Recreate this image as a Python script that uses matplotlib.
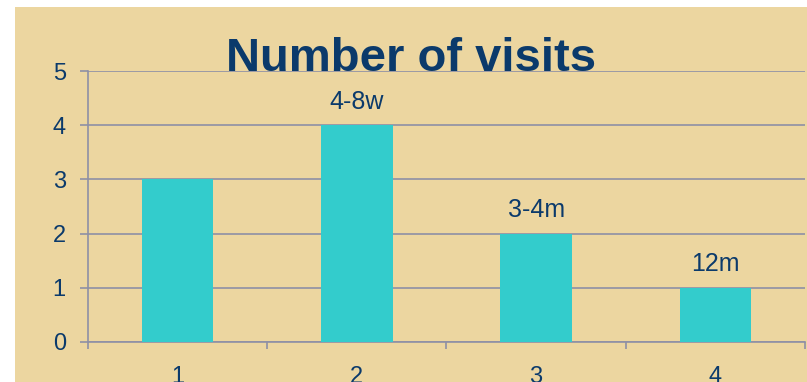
import matplotlib.pyplot as plt
from matplotlib.patches import Rectangle
from matplotlib.ticker import FixedLocator

# visit counts per group
groups = ["1", "2", "3", "4"]
visits = [3, 4, 2, 1]
intervals = ["", "4-8w", "3-4m", "12m"]

navy = "#0B3A6B"
grid_grey = "#8E90A6"
bar_cyan = "#33CCCC"
paper = "#ECD6A0"

plt.rcParams['font.family'] = ['Liberation Sans', 'DejaVu Sans']

fig = plt.figure(figsize=(8.07, 3.82), dpi=100)
fig.patch.set_facecolor("white")

# paper backdrop, leaving a thin white strip on the top and left
fig.patches.append(Rectangle((15 / 807, 0), 1 - 15 / 807, 375 / 382,
                             transform=fig.transFigure, facecolor=paper,
                             edgecolor="none", zorder=-10))

ax = fig.add_axes([88 / 807, 40 / 382, 717 / 807, 271 / 382])
ax.set_facecolor("none")

x = list(range(len(groups)))
ax.bar(x, visits, width=0.4, color=bar_cyan, zorder=3)

for xi, v, lab in zip(x, visits, intervals):
    if lab:
        ax.annotate(lab, (xi, v), xytext=(0, 12), textcoords="offset points",
                    ha="center", va="baseline", fontsize=18, color=navy)

ax.set_xlim(-0.5, 3.5)
ax.set_ylim(0, 5)
ax.set_yticks(range(6))
ax.yaxis.grid(True, color=grid_grey, linewidth=1.2, zorder=1)
ax.set_axisbelow(True)

ax.set_xticks(x)
ax.set_xticklabels(groups)
ax.xaxis.set_minor_locator(FixedLocator([-0.5, 0.5, 1.5, 2.5, 3.5]))
ax.tick_params(axis="x", which="major", length=0, pad=17, labelsize=17, labelcolor=navy)
ax.tick_params(axis="x", which="minor", length=5, width=1.2, color=grid_grey)
ax.tick_params(axis="y", length=6, width=1.2, color=grid_grey, pad=10,
               labelsize=17, labelcolor=navy)

for side in ["top", "right"]:
    ax.spines[side].set_visible(False)
for side in ["left", "bottom"]:
    ax.spines[side].set_color(grid_grey)
    ax.spines[side].set_linewidth(1.2)

fig.text(411 / 807, (382 - 71) / 382, "Number of visits", ha="center", va="baseline",
         fontsize=34, fontweight="bold", color=navy)

fig.savefig("out.png", dpi=100)
